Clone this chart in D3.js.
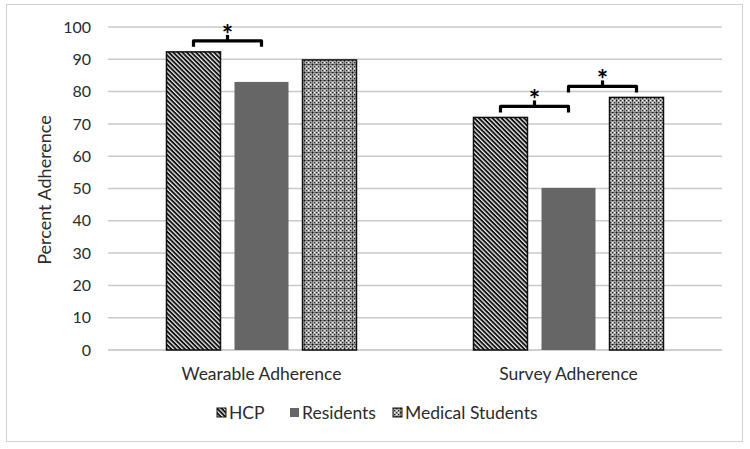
<!DOCTYPE html>
<html><head><meta charset="utf-8">
<script src="https://cdn.jsdelivr.net/npm/d3@7"></script>
<style>body{margin:0;background:#fff;} svg{display:block;font-family:Lato,"Open Sans",sans-serif;}</style>
</head><body><svg id="c" width="750" height="449"></svg>
<script>
const categories = ["Wearable Adherence", "Survey Adherence"];
const seriesNames = ["HCP", "Residents", "Medical Students"];
const hcp = [92.3, 72.0];
const residents = [83.0, 50.2];
const medStudents = [89.8, 78.2];
const yTicks = [0,10,20,30,40,50,60,70,80,90,100];
// significance brackets: [category index, series a, series b]
const brackets = [[0,0,1],[1,0,1],[1,1,2]];

const values = [hcp, residents, medStudents];
const svg = d3.select("#c");
const defs = svg.append("defs");
// HCP diagonal stripes
const p1 = defs.append("pattern").attr("id","stripe").attr("patternUnits","userSpaceOnUse")
  .attr("width",3.2).attr("height",3.2).attr("patternTransform","rotate(45)");
p1.append("rect").attr("width",3.2).attr("height",3.2).attr("fill","#eee");
p1.append("rect").attr("width",3.2).attr("height",1.9).attr("fill","#111");
// Medical students checker/grid
const p2 = defs.append("pattern").attr("id","check").attr("patternUnits","userSpaceOnUse")
  .attr("width",8).attr("height",8);
p2.append("rect").attr("width",8).attr("height",8).attr("fill","#a8a8a8");
for(let i=0;i<4;i++)for(let j=0;j<4;j++){
  p2.append("rect").attr("x",i*2).attr("y",j*2).attr("width",1.2).attr("height",1.2)
    .attr("fill",(i+j)%2===0?"#222":"#fff");
}
p2.append("rect").attr("x",0).attr("y",0).attr("width",8).attr("height",1).attr("fill","#111").attr("opacity",0.5);
p2.append("rect").attr("x",0).attr("y",0).attr("width",1).attr("height",8).attr("fill","#111").attr("opacity",0.5);
const fills = ["url(#stripe)", "#666666", "url(#check)"];
const strokes = ["#111", "none", "#111"];

// outer border
svg.append("rect").attr("x",6.5).attr("y",4.5).attr("width",736).attr("height",437)
  .attr("fill","none").attr("stroke","#d0d0d0").attr("stroke-width",1);

const x0 = d3.scaleBand().domain(categories).range([108,722]);
const x1 = d3.scaleBand().domain(seriesNames).range([0,x0.bandwidth()]).paddingInner(0.206).paddingOuter(0.86);
const y = d3.scaleLinear().domain([0,100]).range([350,27]);

// gridlines
svg.append("g").selectAll("line").data(yTicks).join("line")
  .attr("x1",108).attr("x2",722).attr("y1",d=>y(d)).attr("y2",d=>y(d))
  .attr("stroke",d=>d===0?"#bfbfbf":"#c9c9c9").attr("stroke-width",1.5);

// y tick labels
svg.append("g").selectAll("text").data(yTicks).join("text")
  .attr("x",91).attr("y",d=>y(d)).attr("dy","0.35em").attr("text-anchor","end")
  .attr("font-size",16).attr("fill","#2b2b2b").text(d=>d);

// axis title
svg.append("text").attr("transform","translate(51,190) rotate(-90)").attr("text-anchor","middle")
  .attr("font-size",18).attr("fill","#2b2b2b").text("Percent Adherence");

// bars
seriesNames.forEach((s,si)=>{
  svg.append("g").selectAll("rect").data(categories).join("rect")
    .attr("x",(c)=>x0(c)+x1(s)).attr("width",x1.bandwidth())
    .attr("y",(c,ci)=>y(values[si][ci])).attr("height",(c,ci)=>y(0)-y(values[si][ci]))
    .attr("fill",fills[si]).attr("stroke",strokes[si]).attr("stroke-width",1.5);
});

// category labels
svg.append("g").selectAll("text").data(categories).join("text")
  .attr("x",c=>x0(c)+x0.bandwidth()/2).attr("y",380).attr("text-anchor","middle")
  .attr("font-size",17.5).attr("fill","#2b2b2b").text(c=>c);

// brackets
brackets.forEach(([ci,a,b])=>{
  const c = categories[ci];
  const xa = x0(c)+x1(seriesNames[a])+x1.bandwidth()/2;
  const xb = x0(c)+x1(seriesNames[b])+x1.bandwidth()/2;
  const top = Math.max(values[a][ci], values[b][ci]);
  const yb = y(top)-11;
  const g = svg.append("g");
  g.append("path").attr("d",`M${xa},${yb+6}L${xa},${yb}L${xb},${yb}L${xb},${yb+6}`)
    .attr("fill","none").attr("stroke","#000").attr("stroke-width",3.2).attr("stroke-linejoin","round");
  g.append("line").attr("x1",(xa+xb)/2).attr("x2",(xa+xb)/2).attr("y1",yb).attr("y2",yb-6)
    .attr("stroke","#000").attr("stroke-width",3.2);
  g.append("text").attr("x",(xa+xb)/2).attr("y",yb+3).attr("text-anchor","middle")
    .attr("font-size",27).attr("font-weight","bold").attr("fill","#000").text("*");
});

// legend
const legX = [217, 290, 393];
const lg = svg.append("g");
seriesNames.forEach((s,i)=>{
  lg.append("rect").attr("x",legX[i]).attr("y",408).attr("width",9).attr("height",9)
    .attr("fill",fills[i]).attr("stroke",strokes[i]==="none"?"none":"#111").attr("stroke-width",1);
  lg.append("text").attr("x",legX[i]+12).attr("y",413).attr("dy","0.35em")
    .attr("font-size",17.5).attr("fill","#2b2b2b").text(s);
});
</script></body></html>
